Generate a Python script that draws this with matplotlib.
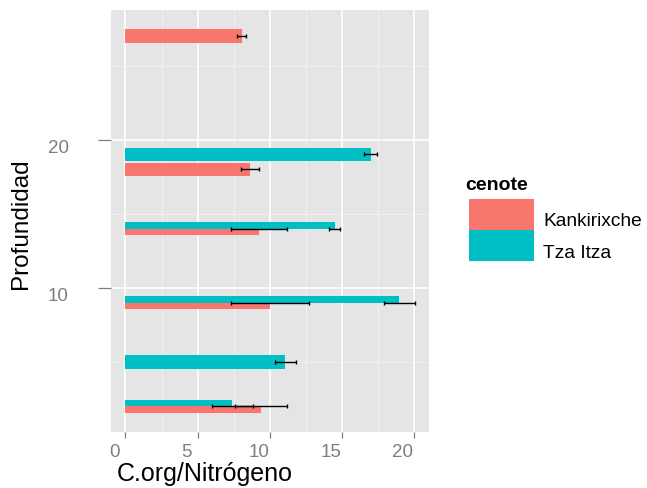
import matplotlib
matplotlib.use("Agg")
import matplotlib.pyplot as plt
from matplotlib.patches import Rectangle
from matplotlib.ticker import MultipleLocator
from matplotlib.transforms import ScaledTranslation
import numpy as np

# Organic carbon / nitrogen ratio by depth for two cenotes
cenotes = ["Kankirixche", "Tza Itza"]
colors = ["#F8766D", "#00BFC4"]

kank_depth = [2, 9, 14, 18, 27]
kank_ratio = [9.38, 10.0, 9.25, 8.64, 8.05]
kank_err = [1.8, 2.7, 1.95, 0.63, 0.33]

tza_depth = [2, 5, 9, 14, 19]
tza_ratio = [7.42, 11.1, 18.98, 14.5, 17.0]
tza_err = [1.43, 0.7, 1.07, 0.4, 0.48]

x_ticks = [0, 5, 10, 15, 20]
y_ticks = [10, 20]

W, H, DPI = 647, 489, 100
plt.rcParams['font.family'] = ['Liberation Sans', 'DejaVu Sans']

fig = plt.figure(figsize=(W / DPI, H / DPI), dpi=DPI)
px = lambda x, y: (x / W, 1 - y / H)

left, right, top, bottom = 111, 429, 11, 433.3
ax = fig.add_axes([left / W, 1 - bottom / H, (right - left) / W, (bottom - top) / H])
ax.set_facecolor('#E5E5E5')
for s in ax.spines.values():
    s.set_visible(False)

series = [(kank_depth, kank_ratio, kank_err), (tza_depth, tza_ratio, tza_err)]
shared = set(kank_depth) & set(tza_depth)
width = 0.9

for i, ((d, v, e), c) in enumerate(zip(series, colors)):
    d = np.asarray(d, float)
    is_shared = np.array([x in shared for x in d])
    heights = np.where(is_shared, width / 2, width)
    centers = np.where(is_shared, d - width / 2 + width / 4 + i * width / 2, d)
    ax.barh(centers, v, height=heights, color=c, linewidth=0, zorder=2)

for d, v, e in series:
    ax.errorbar(v, d, xerr=e, fmt='none', ecolor='black', elinewidth=1.0,
                capsize=1.2, capthick=1.0, zorder=3)

# ggplot-style limits: 5% expansion around the data range
all_hi = max(max(np.add(v, e)) for _, v, e in series)
xlo, xhi = 0, all_hi
xr = xhi - xlo
ax.set_xlim(xlo - 0.05 * xr, xhi + 0.05 * xr)
all_d = kank_depth + tza_depth
ylo, yhi = min(all_d) - width / 2, max(all_d) + width / 2
yr = yhi - ylo
ax.set_ylim(ylo - 0.05 * yr, yhi + 0.05 * yr)

ax.set_xticks(x_ticks)
ax.set_yticks(y_ticks)
ax.xaxis.set_minor_locator(MultipleLocator(2.5))
ax.yaxis.set_minor_locator(MultipleLocator(5))
ax.grid(which='major', color='white', linewidth=1.2, zorder=0)
ax.grid(which='minor', color='#F2F2F2', linewidth=0.6, zorder=0)
ax.set_axisbelow(True)

grey = '#7F7F7F'
ax.tick_params(axis='y', which='major', length=9.4, width=0.9, color=grey,
               pad=21, labelsize=13.5, labelcolor=grey)
ax.tick_params(axis='x', which='major', length=4.3, width=0.9, color=grey,
               pad=3.5, labelsize=13.5, labelcolor=grey)
ax.tick_params(which='minor', length=0)

for lbl in ax.get_yticklabels():
    lbl.set_transform(lbl.get_transform() + ScaledTranslation(0, -0.055, fig.dpi_scale_trans))
for lbl in ax.get_xticklabels():
    lbl.set_transform(lbl.get_transform() + ScaledTranslation(-0.11, 0, fig.dpi_scale_trans))

fig.text(*px(116.7, 481), "C.org/Nitrógeno", fontsize=18, ha='left', va='baseline')
fig.text(*px(21, 223.3), "Profundidad", fontsize=17.5, rotation=90,
         ha='center', va='center')

# legend
fig.text(*px(465, 186), "cenote", fontsize=14, fontweight='bold', ha='left', va='center')
key_x0, key_x1 = 469, 533.7
key_tops = [200, 231]
key_h = 31
label_y = [221.7, 253.7]
for name, c, ktop, ly in zip(cenotes, colors, key_tops, label_y):
    x0, y0 = px(key_x0, ktop + key_h)
    fig.add_artist(Rectangle((x0, y0), (key_x1 - key_x0) / W, key_h / H,
                             transform=fig.transFigure, facecolor=c, edgecolor='none'))
    fig.text(*px(543.3, ly), name, fontsize=13.8, ha='left', va='center')

fig.savefig("out.png", dpi=DPI)
